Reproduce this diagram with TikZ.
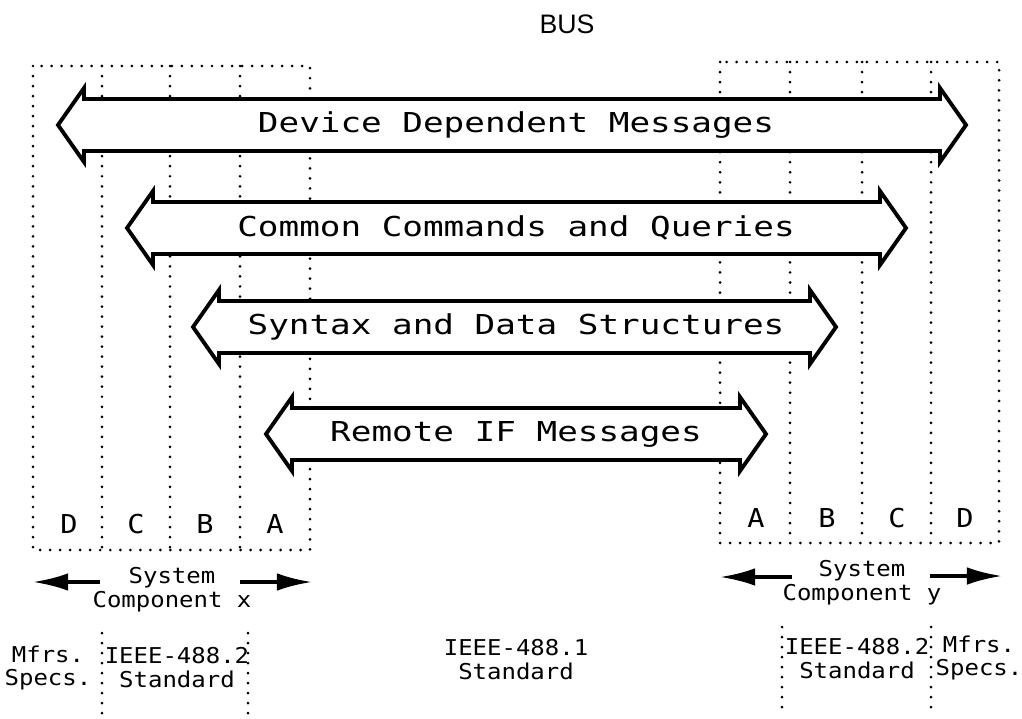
\documentclass[tikz,border=0pt]{standalone}
\usepackage{fontspec}
\setmainfont{Liberation Sans}
\newfontfamily\plotfont{DejaVu Sans Mono}
\usetikzlibrary{arrows.meta}

\begin{document}
\begin{tikzpicture}[x=0.01cm, y=-0.01cm,
  dots/.style={line width=0.85pt, line cap=round, dash pattern=on 0pt off 2.85pt},
  msg/.style={draw, line width=1.1pt, fill=white, line join=miter},
  big/.style={font=\plotfont\fontsize{7.8}{9}\selectfont, xscale=1.25, inner sep=0pt},
  letter/.style={font=\plotfont\fontsize{7.4}{8}\selectfont, xscale=1.1, inner sep=0pt},
  small/.style={font=\plotfont\fontsize{6.2}{6.8}\selectfont, xscale=1.1, align=center, inner sep=0pt},
  side/.style={line width=1pt, -{Latex[length=10pt,width=5pt]}}]
  \useasboundingbox (0, 0) rectangle (1022, 718);
  \node [font=\fontsize{7.6}{8}\selectfont] (BUS) at (567, 24) {BUS};
  \draw [dots] (33, 66) rectangle (310, 550);
  \draw [dots] (102, 66) -- (102, 550);
  \draw [dots] (170, 66) -- (170, 550);
  \draw [dots] (240, 66) -- (240, 550);
  \draw [dots] (720, 62) rectangle (999, 543);
  \draw [dots] (790, 62) -- (790, 543);
  \draw [dots] (862, 62) -- (862, 543);
  \draw [dots] (931, 62) -- (931, 543);
  \draw [msg] (58, 125) -- (84, 88) -- (84, 99) -- (940, 99) -- (940, 88) -- (966, 125)
    -- (940, 162) -- (940, 151) -- (84, 151) -- (84, 162) -- cycle;
  \draw [msg] (127, 228) -- (153, 191) -- (153, 202) -- (880, 202) -- (880, 191) -- (906, 228)
    -- (880, 265) -- (880, 254) -- (153, 254) -- (153, 265) -- cycle;
  \draw [msg] (193, 327) -- (219, 290) -- (219, 301) -- (810, 301) -- (810, 290) -- (836, 327)
    -- (810, 364) -- (810, 353) -- (219, 353) -- (219, 364) -- cycle;
  \draw [msg] (266, 434) -- (292, 397) -- (292, 408) -- (740, 408) -- (740, 397) -- (766, 434)
    -- (740, 471) -- (740, 460) -- (292, 460) -- (292, 471) -- cycle;
  \node [big] (MA) at (516, 125) {Device Dependent Messages};
  \node [big] (MB) at (516, 228) {Common Commands and Queries};
  \node [big] (MC) at (516, 327) {Syntax and Data Structures};
  \node [big] (MD) at (516, 434) {Remote IF Messages};
  \node [letter] (XD) at (69, 524) {D};
  \node [letter] (XC) at (136, 524) {C};
  \node [letter] (XB) at (205, 524) {B};
  \node [letter] (XA) at (275, 524) {A};
  \node [letter] (YA) at (756, 518) {A};
  \node [letter] (YB) at (827, 518) {B};
  \node [letter] (YC) at (897, 518) {C};
  \node [letter] (YD) at (965, 518) {D};
  \node [small] (SX) at (172, 590) {System\\Component x};
  \node [small] (SY) at (862, 583) {System\\Component y};
  \coordinate (XL0) at (100, 582);
  \coordinate (XL1) at (33, 582);
  \coordinate (XR0) at (240, 582);
  \coordinate (XR1) at (312, 582);
  \coordinate (YL0) at (792, 577);
  \coordinate (YL1) at (720, 577);
  \coordinate (YR0) at (930, 576);
  \coordinate (YR1) at (1002, 576);
  \draw [side] (XL0) -- (XL1);
  \draw [side] (XR0) -- (XR1);
  \draw [side] (YL0) -- (YL1);
  \draw [side] (YR0) -- (YR1);
  \draw [dots] (102, 633) -- (102, 716);
  \draw [dots] (248, 633) -- (248, 716);
  \draw [dots] (782, 627) -- (782, 716);
  \draw [dots] (931, 627) -- (931, 716);
  \node [small] (PX) at (48, 668) {Mfrs.\\Specs.};
  \node [small] (QX) at (177, 668) {IEEE-488.2\\Standard};
  \node [small] (QM) at (516, 660) {IEEE-488.1\\Standard};
  \node [small] (QY) at (857, 659) {IEEE-488.2\\Standard};
  \node [small] (PY) at (979, 658) {Mfrs.\\Specs.};
\end{tikzpicture}
\end{document}
